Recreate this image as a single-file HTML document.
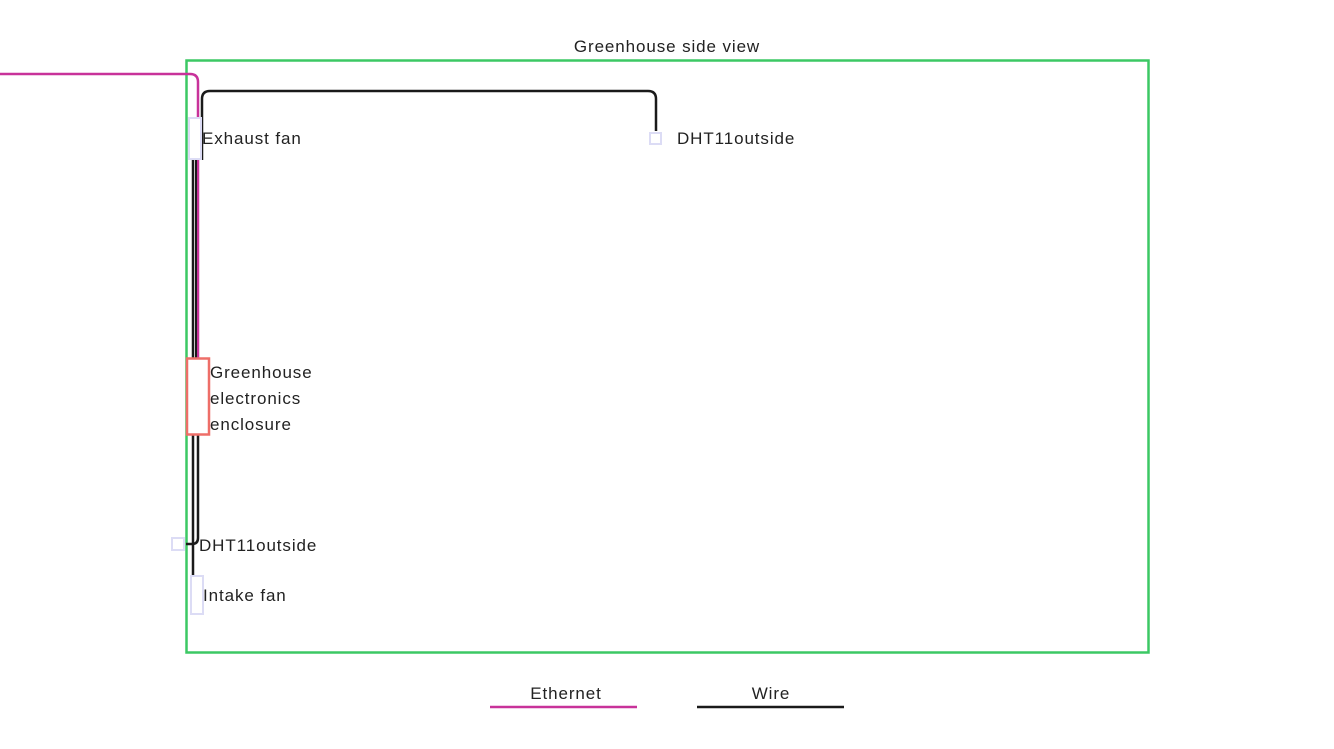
<!DOCTYPE html>
<html><head><style>
body{margin:0;background:#fff;}
svg{display:block;font-family:"Liberation Sans",sans-serif;}
text{font-size:17px;fill:#222;letter-spacing:0.9px;}
</style></head><body>
<svg width="1334" height="749" viewBox="0 0 1334 749">
<rect x="186.5" y="60.5" width="962" height="592" fill="none" stroke="#3cc864" stroke-width="2.5"/>
<text x="667" y="52" text-anchor="middle">Greenhouse side view</text>
<path d="M0 74 H190 Q198 74 198 82 V358" fill="none" stroke="#c8329a" stroke-width="2.5"/>
<path d="M202 160 V99 Q202 91 210 91 H648 Q656 91 656 99 V131" fill="none" stroke="#1a1a1a" stroke-width="2.5"/>
<path d="M193 160 V358" fill="none" stroke="#1a1a1a" stroke-width="2.5"/>
<path d="M196 160 V358" fill="none" stroke="#1a1a1a" stroke-width="2"/>
<path d="M193 435 V576" fill="none" stroke="#1a1a1a" stroke-width="2.5"/>
<path d="M198 435 V538 Q198 544 192 544 H186" fill="none" stroke="#1a1a1a" stroke-width="2.5"/>
<rect x="189" y="118" width="12" height="41" fill="#fff" stroke="#dcdcf5" stroke-width="2"/>
<text x="202" y="144">Exhaust fan</text>
<rect x="650" y="133" width="11" height="11" fill="#fff" stroke="#dcdcf5" stroke-width="2"/>
<text x="677" y="144">DHT11outside</text>
<rect x="187" y="358.5" width="22" height="76" fill="#fff" stroke="#ee6e68" stroke-width="2.5"/>
<text x="210" y="378">Greenhouse</text>
<text x="210" y="404">electronics</text>
<text x="210" y="430">enclosure</text>
<rect x="172" y="538" width="12" height="12" fill="#fff" stroke="#dcdcf5" stroke-width="2"/>
<text x="199" y="551">DHT11outside</text>
<rect x="191" y="576" width="12" height="38" fill="#fff" stroke="#dcdcf5" stroke-width="2"/>
<text x="203" y="601">Intake fan</text>
<text x="566" y="699" text-anchor="middle">Ethernet</text>
<line x1="490" y1="707" x2="637" y2="707" stroke="#c8329a" stroke-width="2.5"/>
<text x="771" y="699" text-anchor="middle">Wire</text>
<line x1="697" y1="707" x2="844" y2="707" stroke="#1a1a1a" stroke-width="2.5"/>
</svg>
</body></html>
